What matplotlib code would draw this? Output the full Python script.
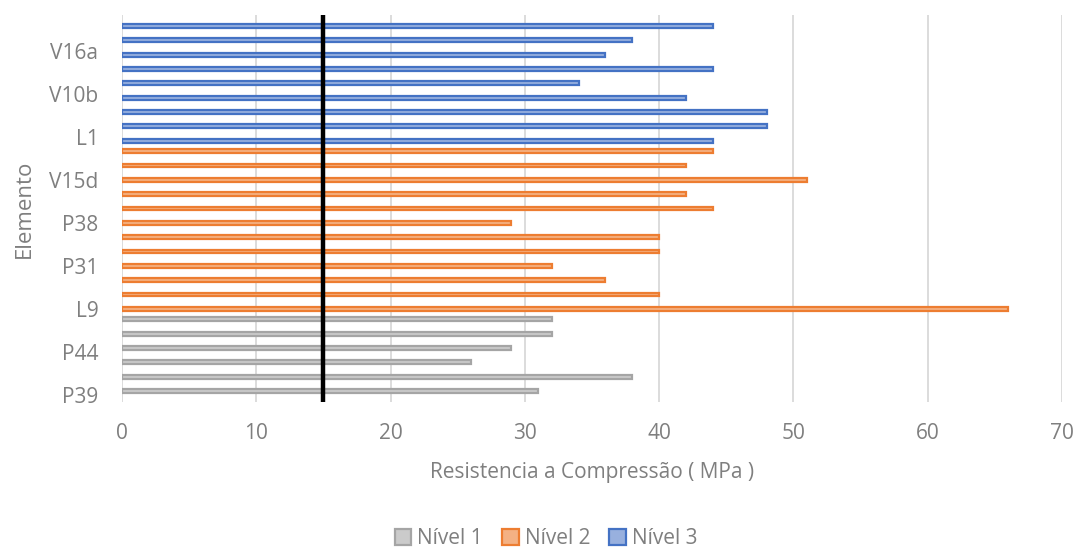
import matplotlib
matplotlib.use("Agg")
import matplotlib.pyplot as plt
from matplotlib.patches import Patch

# Compressive strength (MPa) per element, grouped by level, bottom to top
nivel1 = [31, 38, 26, 29, 32, 32]
nivel2 = [66, 40, 36, 32, 40, 40, 29, 44, 42, 51, 42, 44]
nivel3 = [44, 48, 48, 42, 34, 44, 36, 38, 44]

# Every third element name is shown on the axis
tick_labels = ["P39", "P44", "L9", "P31", "P38", "V15d", "L1", "V10b", "V16a"]

limite = 15  # reference strength line (MPa)

series = [
    ("Nível 1", nivel1, "#cbcbcb", "#a5a5a5"),
    ("Nível 2", nivel2, "#f4b183", "#ed7d31"),
    ("Nível 3", nivel3, "#98b0de", "#4472c4"),
]

plt.rcParams["font.family"] = ["Open Sans", "DejaVu Sans"]
txt = "#7f7f7f"

fig = plt.figure(figsize=(10.78, 5.48), dpi=100)
ax = fig.add_axes([122 / 1078, 1 - 402 / 548, 940 / 1078, 387 / 548])

w = 0.27
offsets = [w, 0.0, -w]  # first series sits at the top of each cluster
start = 0
for (name, vals, fc, ec), off in zip(series, offsets):
    pos = [start + i + off for i in range(len(vals))]
    ax.barh(pos, vals, height=w, color=fc, edgecolor=ec, linewidth=1.6, zorder=3)
    start += len(vals)
n_total = start

ax.axvline(limite, color="black", linewidth=3.2, zorder=5)

ax.set_xlim(0, 70)
ax.set_ylim(-0.5, n_total - 0.5)
ax.set_xticks(range(0, 71, 10))
ax.set_yticks(range(0, n_total, 3))
ax.set_yticklabels(tick_labels)
ax.grid(axis="x", color="#d9d9d9", linewidth=1.3, zorder=0)
for s in ax.spines.values():
    s.set_visible(False)
ax.tick_params(axis="both", length=0, labelsize=15, colors=txt)
ax.tick_params(axis="x", pad=15)
ax.tick_params(axis="y", pad=17)

ax.set_xlabel("Resistencia a Compressão ( MPa )", fontsize=15, color=txt, labelpad=13)
ax.set_ylabel("Elemento", fontsize=16, color=txt, labelpad=10)

handles = [Patch(facecolor=fc, edgecolor=ec, linewidth=1.6, label=name)
           for name, _, fc, ec in series]
fig.legend(handles=handles, loc="center", bbox_to_anchor=(546 / 1078, 1 - 539 / 548),
           ncol=3, frameon=False, fontsize=15, labelcolor=txt,
           handlelength=0.8, handleheight=0.8, handletextpad=0.3, columnspacing=0.9)

fig.savefig("out.png", dpi=100)
